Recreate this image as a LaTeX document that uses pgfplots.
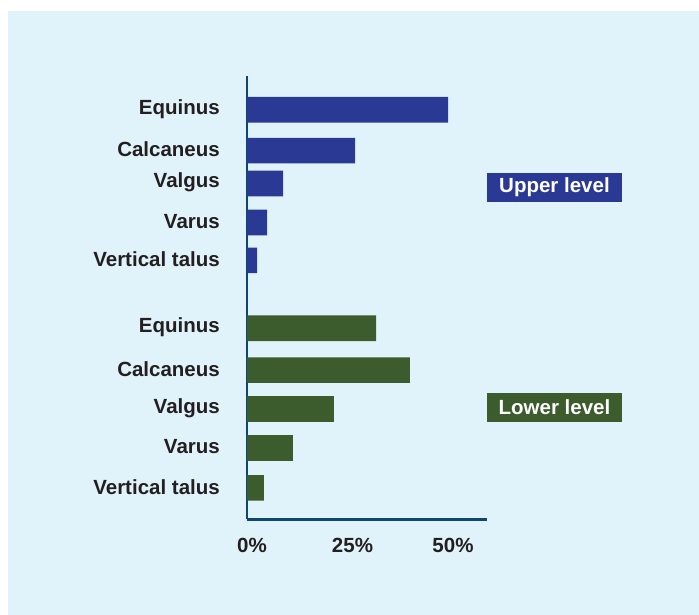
\documentclass[border=0pt]{standalone}
\usepackage{pgfplots}
\pgfplotsset{compat=1.18}
\usepackage{fontspec}
\setmainfont{Liberation Sans}
\definecolor{bgblue}{RGB}{224,243,251}
\definecolor{upperc}{RGB}{42,58,148}
\definecolor{lowerc}{RGB}{60,92,46}
\definecolor{axisc}{RGB}{14,70,115}
\definecolor{txt}{RGB}{35,31,32}
\begin{document}
\begin{tikzpicture}
\useasboundingbox (0,0) rectangle (699bp,615bp);
\fill[white] (0,0) rectangle (699bp,615bp);
\fill[bgblue] (8bp,0) rectangle (699bp,604bp);
\begin{axis}[
  at={(247bp,95.7bp)}, anchor=south west,
  scale only axis, width=240bp, height=443.3bp,
  xmin=0, xmax=59.7, ymin=-519.3, ymax=-75,
  axis x line=bottom, axis y line=left,
  axis line style={-, line width=2.5bp, color=axisc},
  xbar, bar shift=0pt, bar width=25.7,
  major tick length=0pt,
  xtick={0,25,50}, xticklabels={0\%,25\%,50\%},
  ytick={-107.8,-148.8,-181.8,-220.8,-258.8,-326.8,-368.8,-407.8,-446.8,-486.8},
  yticklabels={Equinus,Calcaneus,Valgus,Varus,Vertical talus,Equinus,Calcaneus,Valgus,Varus,Vertical talus},
  ticklabel style={font=\fontsize{20.5bp}{24bp}\selectfont\bfseries, text=txt, inner sep=0pt},
  xticklabel style={anchor=north, yshift=-18.5bp, xshift=5bp},
  yticklabel style={anchor=east, xshift=-27bp},
  clip=false,
]
\addplot[fill=upperc, draw=none] coordinates {(50,-108.8) (26.9,-149.8) (9.0,-182.8) (5.0,-221.8) (2.5,-259.8)};
\addplot[fill=lowerc, draw=none] coordinates {(32.1,-327.8) (40.5,-369.8) (21.6,-408.8) (11.4,-447.8) (4.2,-487.8)};
\end{axis}
\node[fill=upperc, text=white, minimum width=135bp, minimum height=29bp, inner sep=0pt, font=\fontsize{20.5bp}{24bp}\selectfont\bfseries] at (554.5bp,427.5bp) {Upper level};
\node[fill=lowerc, text=white, minimum width=135bp, minimum height=29bp, inner sep=0pt, font=\fontsize{20.5bp}{24bp}\selectfont\bfseries] at (554.5bp,207.5bp) {Lower level};
\end{tikzpicture}
\end{document}
